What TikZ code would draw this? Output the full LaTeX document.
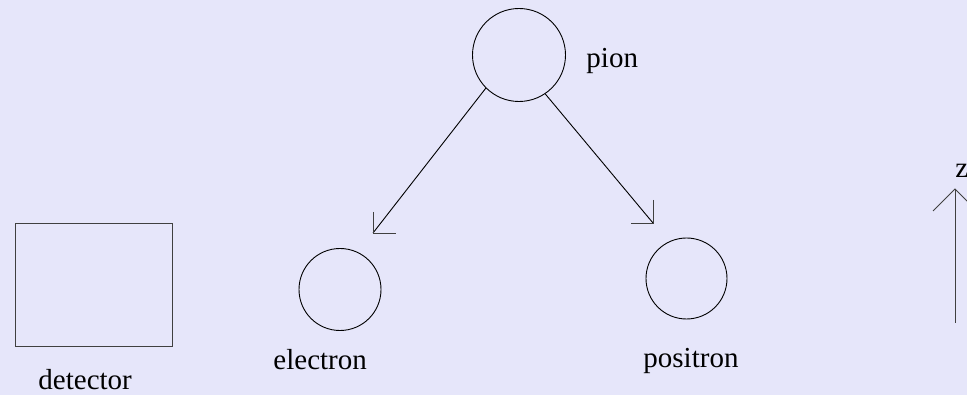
\documentclass[tikz,border=0pt]{standalone}
\usepackage{fontspec}
\setmainfont{Liberation Serif}
\definecolor{bgcol}{RGB}{230,230,250}
\begin{document}
\begin{tikzpicture}[x=1pt,y=-1pt,
  line width=0.9pt,
  particle/.style={draw=black,circle,inner sep=0pt},
  label text/.style={inner sep=0pt,anchor=base west,font=\fontsize{29}{35}\selectfont},
  wing/.style={draw=black!75}]
  % canvas
  \fill[bgcol] (0,0) rectangle (967,395);
  \useasboundingbox (0,0) rectangle (967,395);

  % particles
  \node[particle,minimum size=93pt] (pion) at (519,55) {};
  \node[particle,minimum size=82pt] (electron) at (340,289.5) {};
  \node[particle,minimum size=81pt] (positron) at (686.5,278.5) {};

  % detector
  \node[draw=black!75,rectangle,inner sep=0pt,minimum width=157pt,minimum height=123pt] (detector) at (93.5,284.5) {};

  % labels
  \node[label text] (pionlbl) at (586,68) {pion};
  \node[label text] (electronlbl) at (273,370) {electron};
  \node[label text] (positronlbl) at (643,368) {positron};
  \node[label text] (detectorlbl) at (38,389.5) {detector};
  \node[label text] (zlbl) at (955,178) {z};

  % decay products: lines with open half heads
  \coordinate (etip) at (373,233);
  \coordinate (ptip) at (653,223);
  \draw (pion.225) -- (etip);
  \draw (pion.304) -- (ptip);
  \draw[wing] (etip) ++(0,-21) -- (etip) -- ++(23,0);
  \draw[wing] (ptip) ++(0,-23) -- (ptip) -- ++(-22,0);

  % z axis
  \coordinate (zbot) at (955,323);
  \coordinate (ztop) at (955,189);
  \draw[draw=black!75] (zbot) -- (ztop);
  \draw[draw=black!75] (ztop) ++(-22,22) -- (ztop) -- ++(22,22);
\end{tikzpicture}
\end{document}
